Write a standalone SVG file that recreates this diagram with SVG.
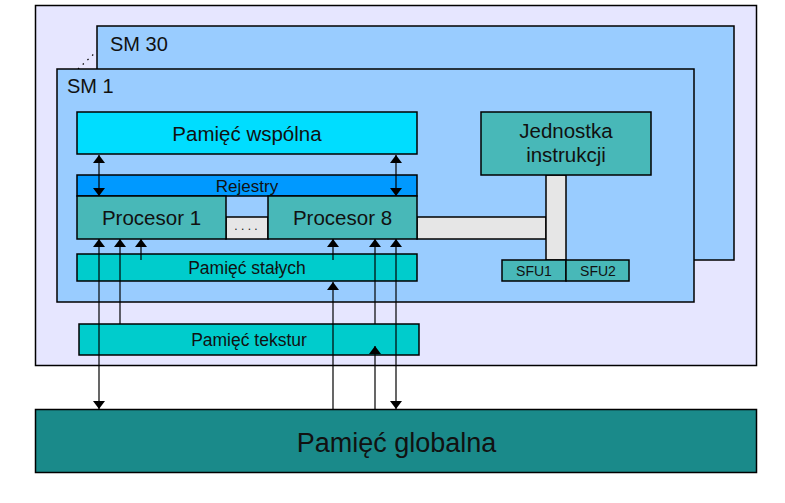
<svg xmlns="http://www.w3.org/2000/svg" width="785" height="503" viewBox="0 0 785 503">
<style>
  .b{stroke:#000;stroke-width:1.5}
  text{font-family:"Liberation Sans",Arial,sans-serif;fill:#111}
  .c{text-anchor:middle}
  .ln{stroke:#000;stroke-width:1.2;fill:none}
</style>
<defs>
  <marker id="ah" viewBox="0 0 8 12" refX="8" refY="6" markerWidth="8" markerHeight="12" markerUnits="userSpaceOnUse" orient="auto-start-reverse">
    <path d="M0,0 L8,6 L0,12 z" fill="#000"/>
  </marker>
</defs>
<rect width="785" height="503" fill="#fff"/>
<g id="gpu"><rect class="b" x="35.5" y="5.5" width="721" height="360" fill="#e6e6ff"/></g>
<g id="sm30"><rect class="b" x="97" y="26" width="637" height="234" fill="#99ccff"/>
<text x="110" y="51" font-size="20">SM 30</text></g>
<g id="dots"><line x1="78" y1="69" x2="97" y2="51" stroke="#000" stroke-width="1.2" stroke-dasharray="1.5,5"/></g>
<g id="sm1"><rect class="b" x="57" y="69" width="637" height="233" fill="#99ccff"/>
<text x="67" y="93" font-size="20">SM 1</text></g>
<g id="pw"><rect class="b" x="77" y="112" width="340" height="42" fill="#00ddff"/>
<text class="c" x="247" y="141" font-size="20.5">Pamięć wspólna</text></g>
<g id="rej"><rect class="b" x="77" y="175" width="340" height="21" fill="#0099ff"/>
<text class="c" x="247" y="192" font-size="17">Rejestry</text></g>
<g id="gap"><rect x="226" y="217" width="42" height="22" fill="#e6e6e6" class="b"/>
<text class="c" x="246" y="230" font-size="12">. . . .</text></g>
<g id="bar"><rect class="b" x="417" y="217" width="129" height="22" fill="#e6e6e6"/>
<rect class="b" x="546" y="175" width="20" height="85" fill="#e6e6e6"/></g>
<g id="p1"><rect class="b" x="77" y="196" width="149" height="43" fill="#48b8b8"/>
<text class="c" x="151.5" y="225" font-size="20.5">Procesor 1</text></g>
<g id="p8"><rect class="b" x="268" y="196" width="149" height="43" fill="#48b8b8"/>
<text class="c" x="342.5" y="225" font-size="20.5">Procesor 8</text></g>
<g id="ji"><rect class="b" x="481" y="112" width="170" height="63" fill="#48b8b8"/>
<text class="c" x="566" y="138" font-size="20.5">Jednostka</text>
<text class="c" x="566" y="162" font-size="20.5">instrukcji</text></g>
<g id="sfu1"><rect class="b" x="502" y="260" width="64" height="21" fill="#48b8b8"/>
<text class="c" x="534" y="276" font-size="14">SFU1</text></g>
<g id="sfu2"><rect class="b" x="566" y="260" width="63" height="21" fill="#48b8b8"/>
<text class="c" x="598" y="276" font-size="14">SFU2</text></g>
<g id="ps"><rect class="b" x="77" y="254" width="340" height="27" fill="#00cccc"/>
<text class="c" x="247" y="274" font-size="17.5">Pamięć stałych</text></g>
<g id="pt"><rect class="b" x="79" y="324" width="340" height="31" fill="#00cccc"/>
<text class="c" x="249" y="346" font-size="17.5">Pamięć tekstur</text></g>
<g id="pg"><rect class="b" x="35.5" y="409.5" width="721" height="63" fill="#1a8a8a"/>
<text class="c" x="396.5" y="452" font-size="27">Pamięć globalna</text></g>
<g id="connectors">
  <line class="ln" x1="99" y1="155" x2="99" y2="196" marker-start="url(#ah)" marker-end="url(#ah)"/>
  <line class="ln" x1="396" y1="155" x2="396" y2="196" marker-start="url(#ah)" marker-end="url(#ah)"/>
  <line class="ln" x1="99" y1="239" x2="99" y2="409" marker-start="url(#ah)" marker-end="url(#ah)"/>
  <line class="ln" x1="120" y1="324" x2="120" y2="239" marker-end="url(#ah)"/>
  <line class="ln" x1="141" y1="260" x2="141" y2="239" marker-end="url(#ah)"/>
  <line class="ln" x1="333" y1="260" x2="333" y2="239" marker-end="url(#ah)"/>
  <line class="ln" x1="333" y1="409" x2="333" y2="282" marker-end="url(#ah)"/>
  <line class="ln" x1="375" y1="324" x2="375" y2="239" marker-end="url(#ah)"/>
  <line class="ln" x1="375" y1="409" x2="375" y2="346" marker-end="url(#ah)"/>
  <line class="ln" x1="396" y1="239" x2="396" y2="409" marker-start="url(#ah)" marker-end="url(#ah)"/>
</g>
</svg>
